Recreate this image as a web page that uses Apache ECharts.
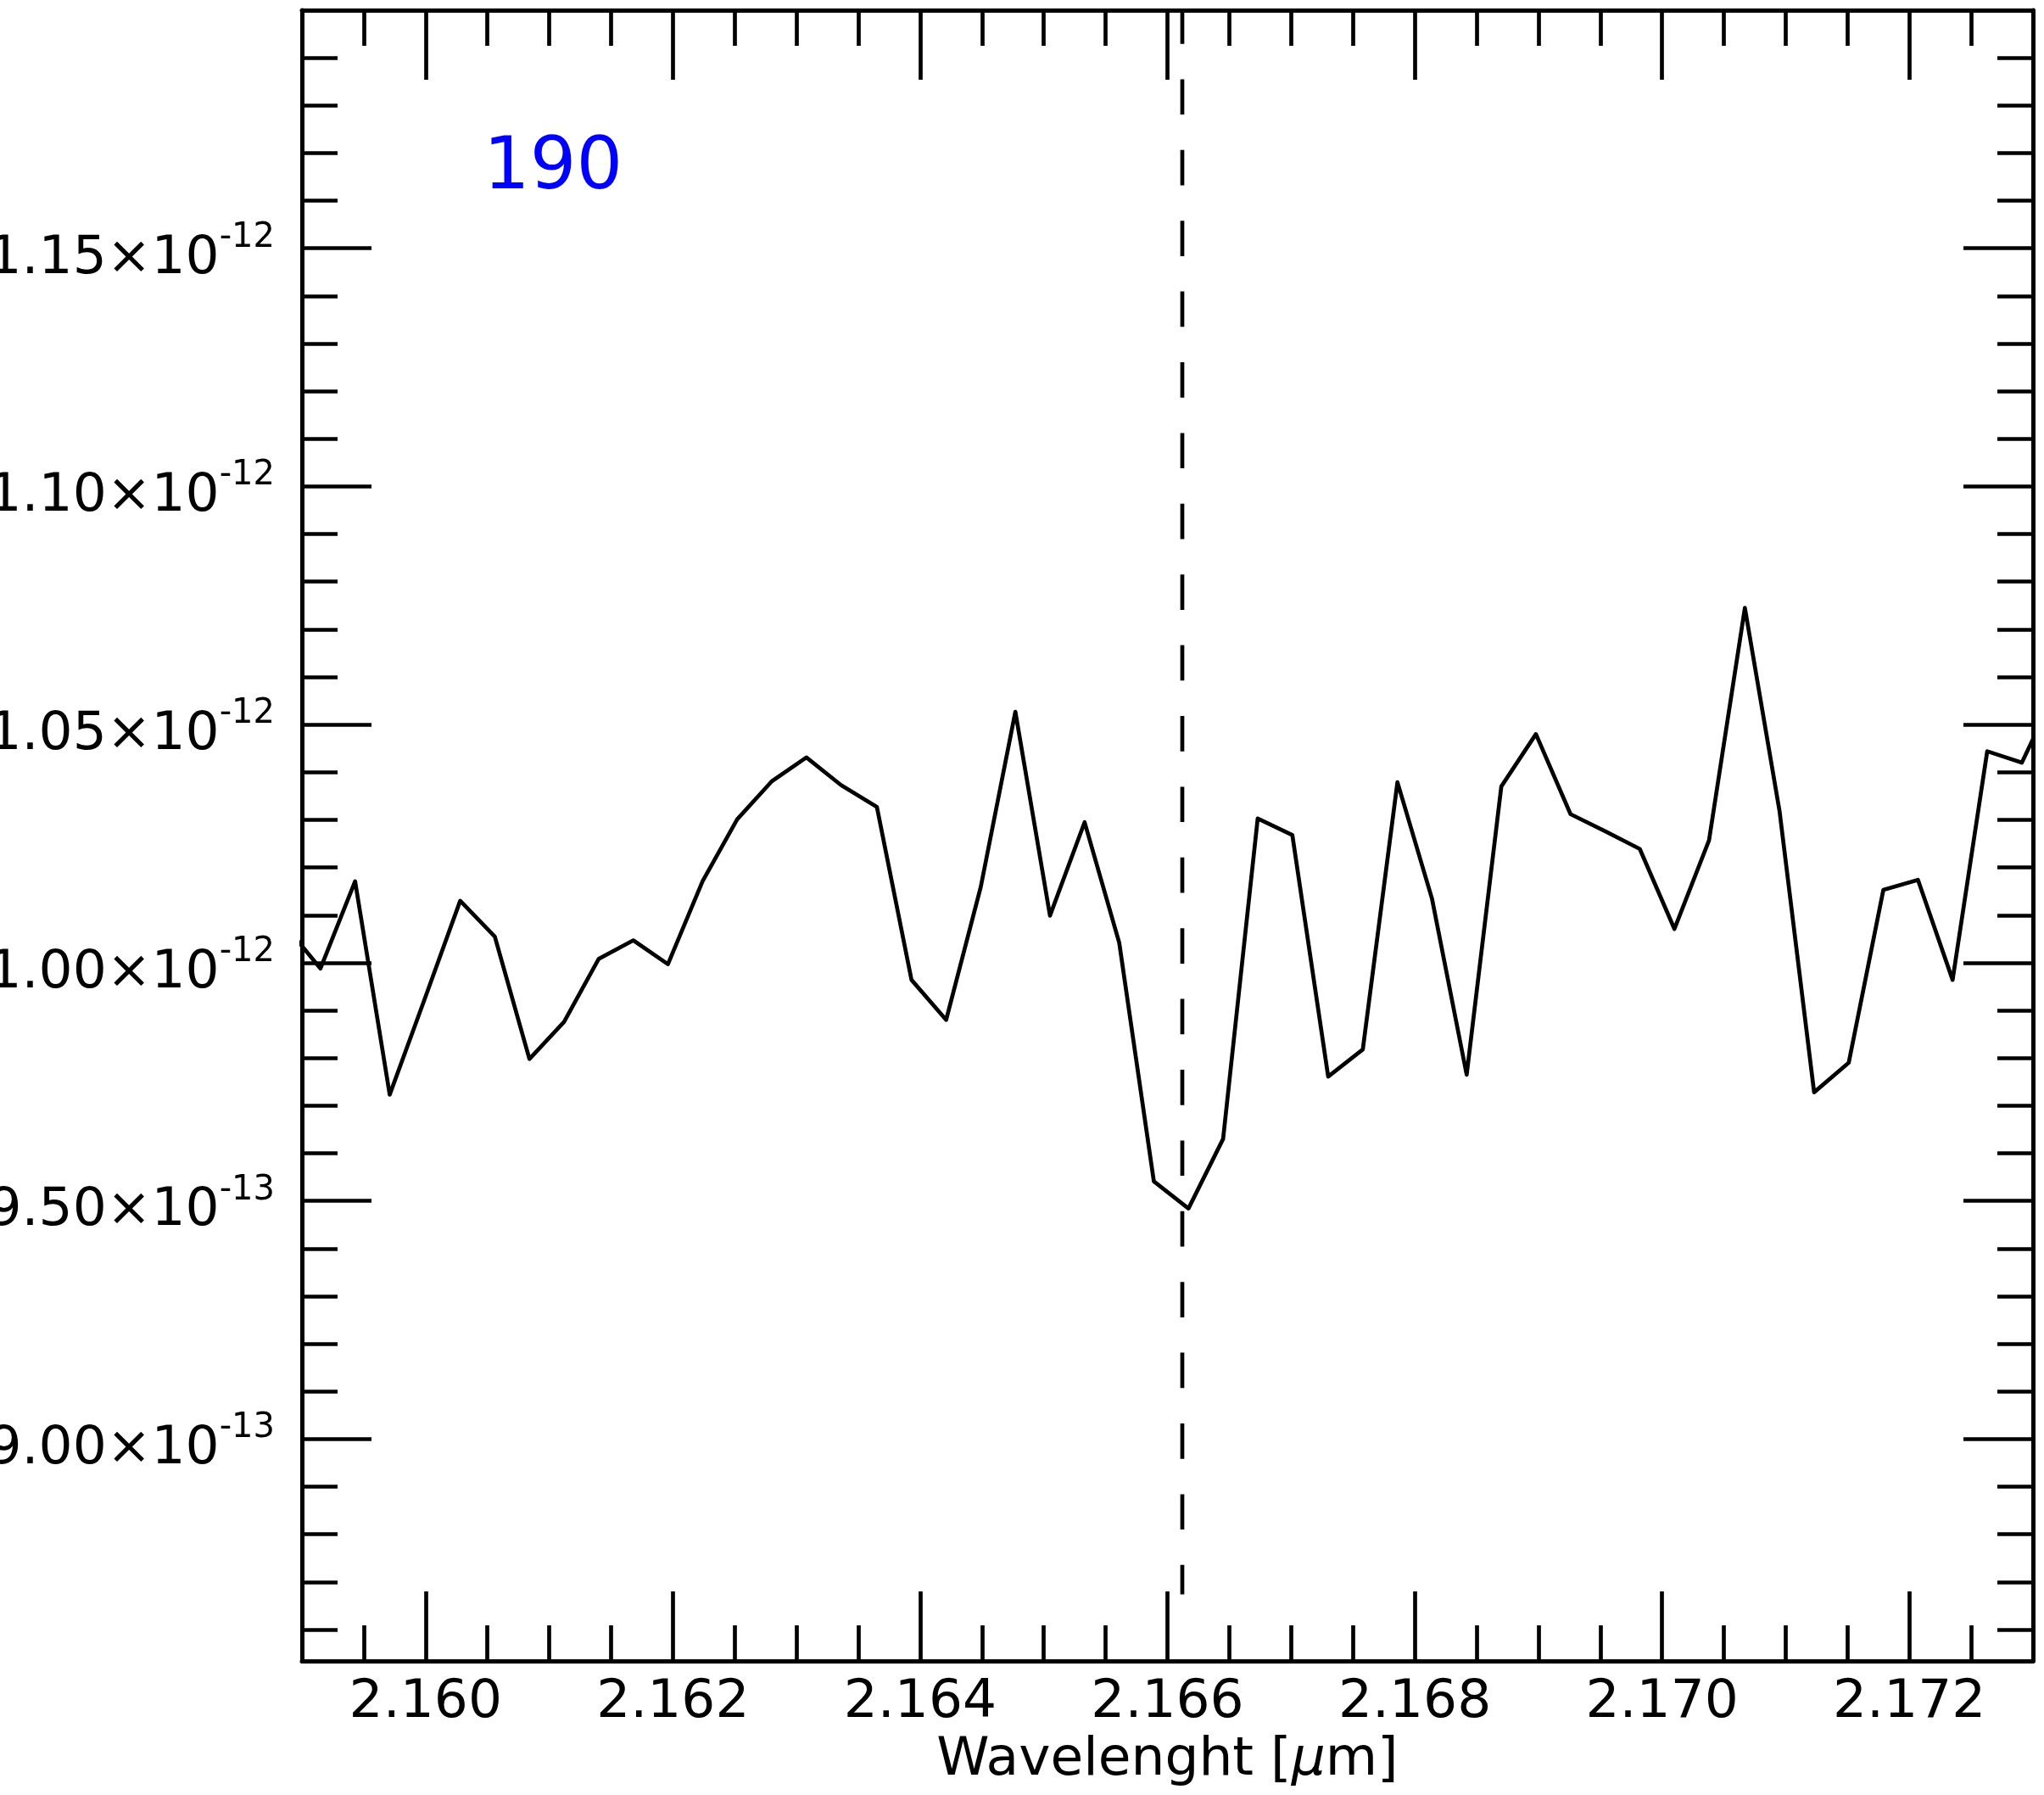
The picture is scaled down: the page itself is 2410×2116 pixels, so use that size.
<!DOCTYPE html>
<html>
<head>
<meta charset="utf-8">
<script src="https://cdn.jsdelivr.net/npm/echarts/dist/echarts.min.js"></script>
<style>
html,body{margin:0;padding:0;background:#ffffff;}
#chart{width:2410px;height:2116px;}
</style>
</head>
<body>
<div id="chart"></div>
<script>
// ---- data ----
// wavelength in micron
const wavelength = [
  2.15887, 2.15915, 2.15943, 2.15971, 2.15999, 2.16028, 2.16056, 2.16084, 2.16112, 2.16140,
  2.16168, 2.16196, 2.16224, 2.16252, 2.16280, 2.16308, 2.16336, 2.16365, 2.16393, 2.16421,
  2.16449, 2.16477, 2.16505, 2.16533, 2.16561, 2.16589, 2.16617, 2.16645, 2.16673, 2.16701,
  2.16730, 2.16758, 2.16786, 2.16814, 2.16842, 2.16870, 2.16898, 2.16926, 2.16954, 2.16982,
  2.17010, 2.17038, 2.17067, 2.17095, 2.17123, 2.17151, 2.17179, 2.17207, 2.17235, 2.17263,
  2.17291, 2.17319
];
// flux in units of 1e-12
const flux = [
  1.0076, 0.9988, 1.0171, 0.9723, 0.9922, 1.0130, 1.0055, 0.9798, 0.9876, 1.0008,
  1.0047, 0.9997, 1.0171, 1.0301, 1.0381, 1.0431, 1.0373, 1.0327, 0.9964, 0.9880,
  1.0159, 1.0527, 1.0099, 1.0295, 1.0042, 0.9541, 0.9484, 0.9630, 1.0303, 1.0268,
  0.9761, 0.9818, 1.0379, 1.0134, 0.9765, 1.0370, 1.0480, 1.0312, 1.0276, 1.0239,
  1.0071, 1.0257, 1.0745, 1.0319, 0.9728, 0.9790, 1.0153, 1.0174, 0.9964, 1.0444,
  1.0420, 1.0574
];
// vertical dashed marker line (x position, y from / to, units 1e-12)
const markerWavelength = 2.16612;
const markerSpan = [1.20, 0.8674];
const annotationText = '190';
const xAxisName = 'Wavelenght [';
const xAxisNameGreek = 'μ';
const xAxisNameEnd = 'm]';

const xRange = [2.159, 2.173];
const yRange = [0.8534, 1.20];

const xMajorTicks = [2.160, 2.162, 2.164, 2.166, 2.168, 2.170, 2.172];
const xMajorLabels = ['2.160', '2.162', '2.164', '2.166', '2.168', '2.170', '2.172'];
const xMinorTicks = [2.1595, 2.1605, 2.161, 2.1615, 2.1625, 2.163, 2.1635, 2.1645, 2.165, 2.1655,
  2.1665, 2.167, 2.1675, 2.1685, 2.169, 2.1695, 2.1705, 2.171, 2.1715, 2.1725];

const yMajorTicks = [0.90, 0.95, 1.00, 1.05, 1.10, 1.15];
const yMajorMantissa = ['9.00', '9.50', '1.00', '1.05', '1.10', '1.15'];
const yMajorExponent = ['-13', '-13', '-12', '-12', '-12', '-12'];
const yMinorTicks = [0.86, 0.87, 0.88, 0.89, 0.91, 0.92, 0.93, 0.94, 0.96, 0.97, 0.98, 0.99,
  1.01, 1.02, 1.03, 1.04, 1.06, 1.07, 1.08, 1.09, 1.11, 1.12, 1.13, 1.14,
  1.16, 1.17, 1.18, 1.19];

// ---- chart ----
const FONT = 'DejaVu Sans';
const LW = 4.7;
const BLACK = '#000000';

function idxOf(arr, v) {
  for (let i = 0; i < arr.length; i++) if (Math.abs(arr[i] - v) < 1e-7) return i;
  return -1;
}

function xAxisDef(position, major, withLabels) {
  return {
    type: 'value', position: position, min: xRange[0], max: xRange[1],
    axisLine: { show: major, lineStyle: { color: BLACK, width: 5 } },
    axisTick: { show: true, inside: true, length: major ? 82 : 42,
      customValues: major ? xMajorTicks : xMinorTicks,
      lineStyle: { color: BLACK, width: LW } },
    axisLabel: withLabels ? {
      show: true, customValues: xMajorTicks, margin: 18,
      fontFamily: FONT, fontSize: 63, color: BLACK,
      formatter: function (v) { const i = idxOf(xMajorTicks, v); return i >= 0 ? xMajorLabels[i] : ''; }
    } : { show: false },
    splitLine: { show: false },
    name: '',
    nameLocation: 'middle', nameGap: 85,
    nameTextStyle: withLabels ? {
      fontFamily: FONT, fontSize: 63, color: BLACK,
      rich: { i: { fontFamily: FONT, fontSize: 63, fontStyle: 'italic', color: BLACK } }
    } : {}
  };
}

function yAxisDef(position, major, withLabels) {
  return {
    type: 'value', position: position, min: yRange[0], max: yRange[1],
    axisLine: { show: major, lineStyle: { color: BLACK, width: 5 } },
    axisTick: { show: true, inside: true, length: major ? 82 : 42,
      customValues: major ? yMajorTicks : yMinorTicks,
      lineStyle: { color: BLACK, width: LW } },
    axisLabel: withLabels ? {
      show: true, customValues: yMajorTicks, margin: 32,
      padding: [25, 0, 0, 0],
      formatter: function (v) {
        const i = idxOf(yMajorTicks, v);
        if (i < 0) return '';
        return '{m|' + yMajorMantissa[i] + '×10}{s|' + yMajorExponent[i] + '}';
      },
      rich: {
        m: { fontFamily: FONT, fontSize: 63, lineHeight: 90, color: BLACK },
        s: { fontFamily: FONT, fontSize: 40, lineHeight: 90, verticalAlign: 'top', color: BLACK }
      }
    } : { show: false },
    splitLine: { show: false }
  };
}

const chart = echarts.init(document.getElementById('chart'), null, { renderer: 'canvas', width: 2410, height: 2116 });

const option = {
  backgroundColor: '#ffffff',
  animation: false,
  title: {
    text: annotationText, left: 570, top: 157, padding: 0,
    textStyle: { fontFamily: FONT, fontSize: 86, fontWeight: 'normal', color: '#0000ff' }
  },
  grid: { left: 356, right: 13, top: 12, bottom: 158, containLabel: false, outerBoundsMode: 'none' },
  xAxis: [
    xAxisDef('bottom', true, true),
    xAxisDef('bottom', false, false),
    xAxisDef('top', true, false),
    xAxisDef('top', false, false)
  ],
  yAxis: [
    yAxisDef('left', true, true),
    yAxisDef('left', false, false),
    yAxisDef('right', true, false),
    yAxisDef('right', false, false)
  ],
  series: [
    {
      type: 'line', xAxisIndex: 0, yAxisIndex: 0,
      data: wavelength.map((w, i) => [w, flux[i]]),
      symbol: 'none', showSymbol: false, clip: true, silent: true,
      lineStyle: { color: BLACK, width: LW, join: 'round' },
      z: 3
    },
    {
      type: 'line', xAxisIndex: 0, yAxisIndex: 0,
      data: [[markerWavelength, markerSpan[0]], [markerWavelength, markerSpan[1]]],
      symbol: 'none', showSymbol: false, clip: true, silent: true,
      lineStyle: { color: BLACK, width: LW, type: [41.7, 41.7], dashOffset: 2 },
      z: 2
    }
  ]
};

// rich name for x axis (italic mu)
option.xAxis[0].name = xAxisName + '{i|' + xAxisNameGreek + '}' + xAxisNameEnd;

chart.setOption(option);
</script>
</body>
</html>
